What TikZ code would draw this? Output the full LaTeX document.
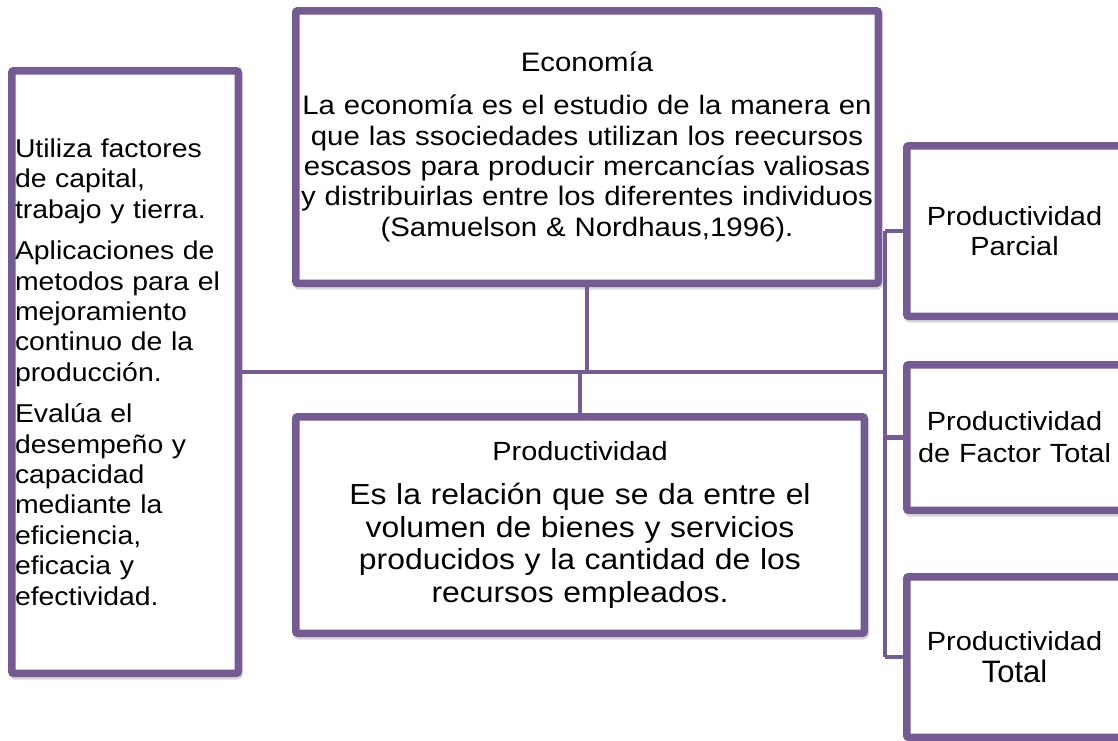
\documentclass[tikz,border=0pt]{standalone}
\usepackage{fontspec}
\setmainfont{Liberation Sans}[FakeStretch=1.1]
\newfontfamily\plainfont{Liberation Sans}
\usetikzlibrary{shadows,backgrounds}
\definecolor{pur}{RGB}{117,91,148}
\newcommand\fsEco{\fontsize{26.7}{30.4}\selectfont}
\newcommand\fsLeft{\fontsize{25.8}{30.4}\selectfont}
\newcommand\fsPT{\fontsize{26.3}{30}\selectfont}
\newcommand\fsPB{\fontsize{29}{32.7}\selectfont}
\newcommand\fsR{\fontsize{26.3}{30.5}\selectfont}
\newcommand\fsRb{\fontsize{26.3}{32}\selectfont}
\begin{document}
\begin{tikzpicture}[x=1pt,y=-1pt,
  box/.style={draw=pur, line width=7.5pt, fill=white, rounded corners=2pt,
    inner sep=0pt, text=black,
    drop shadow={shadow xshift=1pt, shadow yshift=-2.5pt, opacity=0.25,
      fill=black!60, draw=black!60, line width=7.5pt}},
  conn/.style={draw=pur, line width=4.5pt},
  rbox/.style={box, minimum width=215.5pt, text width=212pt, align=center}]
\useasboundingbox (0,0) rectangle (1118,740);

\node[box, minimum width=226.5pt, minimum height=602.5pt, text width=220pt,
  align=left, font=\fsLeft] (left) at (125,372)
  {Utiliza factores\\de capital,\\trabajo y tierra.\par\vspace{11pt}%
   Aplicaciones de\\metodos para el\\mejoramiento\\continuo de la\\producción.\par\vspace{11pt}%
   Evalúa el\\desempeño y\\capacidad\\mediante la\\eficiencia,\\eficacia y\\efectividad.};

\node[box, minimum width=582.5pt, minimum height=272.5pt, text width=577pt,
  align=center, font=\fsEco] (eco) at (587,147)
  {Economía\par\vspace{12.6pt}%
   La economía es el estudio de la manera en\\ que las ssociedades utilizan los reecursos\\
   escasos para producir mercancías valiosas\\ y distribuirlas entre los diferentes individuos\\
   (Samuelson \& Nordhaus,1996).};

\node[box, minimum width=568.5pt, minimum height=216.5pt, text width=560pt,
  align=center, font=\fsPB] (prod) at (580,525)
  {{\fsPT Productividad\par}\vspace{11.3pt}%
   Es la relación que se da entre el\\ volumen de bienes y servicios\\
   producidos y la cantidad de los\\ recursos empleados.};

\node[rbox, minimum height=170.5pt, font=\fsR] (pp) at (1014.5,231)
  {Productividad\\Parcial};
\node[rbox, minimum height=145.5pt, font=\fsRb] (pf) at (1014.5,437.5)
  {Productividad\\de Factor Total};
\node[rbox, minimum height=160.5pt, font=\fsRb] (pt) at (1014.5,657)
  {Productividad\\{\plainfont\fontsize{31}{32}\selectfont Total}};

\coordinate (bus) at (885,372);
\begin{scope}[on background layer]
  \draw[conn] (left.east) -- (bus);
  \draw[conn] (eco.south) -- (eco.south |- bus);
  \draw[conn] (prod.north) -- (prod.north |- bus);
  \draw[conn] (bus |- pp.west) -- (bus |- pt.west);
  \draw[conn] (bus |- pp.west) -- (pp.west);
  \draw[conn] (bus |- pf.west) -- (pf.west);
  \draw[conn] (bus |- pt.west) -- (pt.west);
\end{scope}
\end{tikzpicture}
\end{document}
